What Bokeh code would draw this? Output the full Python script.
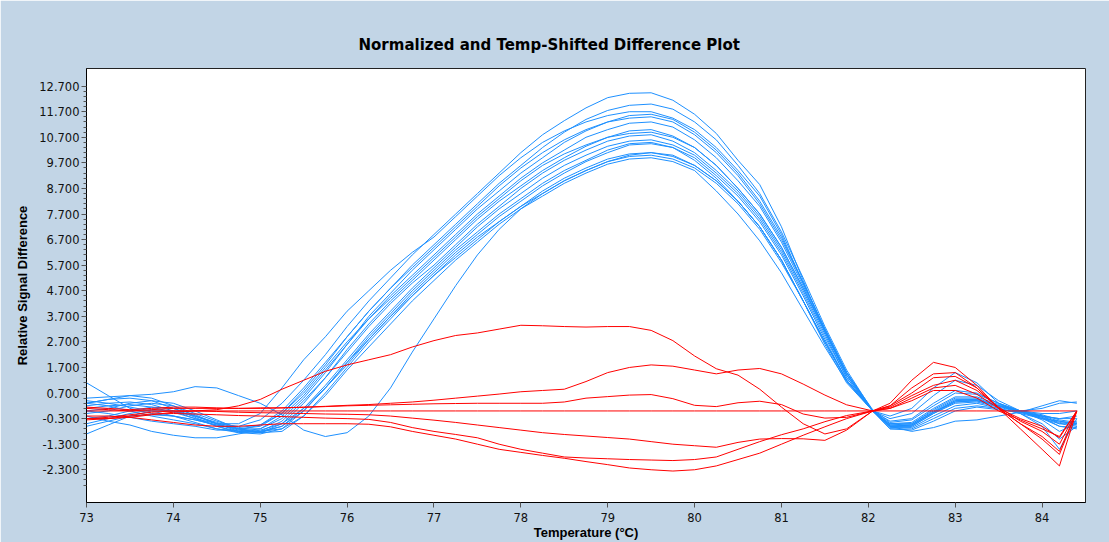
from bokeh.plotting import figure
from bokeh.models import FixedTicker, PrintfTickFormatter, Range1d
from bokeh.embed import file_html
from bokeh.resources import INLINE

# ---------------- data ----------------
temps = [73.0, 73.25, 73.5, 73.75, 74.0, 74.25, 74.5, 74.75, 75.0, 75.25, 75.5, 75.75,
         76.0, 76.25, 76.5, 76.75, 77.0, 77.25, 77.5, 77.75, 78.0, 78.25, 78.5, 78.75,
         79.0, 79.25, 79.5, 79.75, 80.0, 80.25, 80.5, 80.75, 81.0, 81.25, 81.5, 81.75,
         82.05, 82.25, 82.5, 82.75, 83.0, 83.25, 83.5, 83.75, 84.0, 84.2, 84.4]

blue_01 = [0.2, 0.3, 0.35, 0.25, 0.0, -0.3, -0.5, -0.6, -0.35,
           0.3, 1.2, 2.2, 3.3, 4.3, 5.2, 6.1, 6.9, 7.7, 8.5, 9.3, 10.1, 10.8, 11.35, 11.85,
           12.25, 12.42, 12.44, 12.15, 11.6, 10.85, 9.8, 8.85, 7.2, 5.1, 3.1, 1.5,
           0.0, -0.2, 0.1, 0.9, 1.5, 1.1, 0.3, -0.1, -0.3, -0.4, -0.5]
blue_02 = [-0.1, 0.0, 0.2, 0.3, 0.2, -0.1, -0.4, -0.65, -0.55,
           0.0, 0.9, 1.9, 2.9, 3.9, 4.8, 5.7, 6.5, 7.3, 8.1, 8.9, 9.6, 10.3, 10.9, 11.4,
           11.75, 11.95, 12.0, 11.8, 11.3, 10.6, 9.6, 8.5, 7.0, 5.2, 3.3, 1.6,
           0.0, -0.3, -0.1, 0.6, 1.2, 1.0, 0.4, 0.0, -0.2, -0.3, -0.3]
blue_03 = [0.5, 0.55, 0.6, 0.5, 0.2, -0.2, -0.5, -0.5, -0.1,
           0.9, 2.0, 2.9, 3.9, 4.7, 5.5, 6.2, 6.8, 7.6, 8.4, 9.2, 9.9, 10.5, 10.95, 11.3,
           11.55, 11.7, 11.7, 11.45, 11.0, 10.3, 9.4, 8.4, 6.9, 5.0, 3.2, 1.5,
           0.0, -0.4, -0.3, 0.3, 0.8, 0.7, 0.3, 0.0, -0.2, -0.4, -0.5]
blue_04 = [0.0, 0.1, 0.3, 0.4, 0.3, 0.0, -0.35, -0.7, -0.7,
           -0.3, 0.5, 1.5, 2.6, 3.7, 4.6, 5.5, 6.3, 7.1, 7.9, 8.6, 9.3, 9.9, 10.5, 10.95,
           11.3, 11.55, 11.6, 11.4, 10.9, 10.2, 9.3, 8.2, 6.8, 5.0, 3.2, 1.5,
           0.05, -0.45, -0.35, 0.2, 0.7, 0.65, 0.3, 0.0, -0.1, -0.1, 0.0]
blue_05 = [1.1, 0.6, 0.1, -0.1, -0.2, -0.35, -0.55, -0.7, -0.6,
           -0.1, 0.8, 1.8, 2.9, 3.9, 4.8, 5.6, 6.4, 7.2, 8.0, 8.8, 9.5, 10.1, 10.6, 11.0,
           11.3, 11.45, 11.5, 11.3, 10.8, 10.1, 9.2, 8.1, 6.7, 5.0, 3.2, 1.5,
           0.0, -0.5, -0.45, 0.1, 0.55, 0.55, 0.25, 0.0, 0.1, 0.3, 0.35]
blue_06 = [0.3, 0.45, 0.5, 0.4, 0.1, -0.25, -0.6, -0.8, -0.7,
           -0.2, 0.6, 1.6, 2.6, 3.6, 4.5, 5.3, 6.1, 6.9, 7.7, 8.4, 9.1, 9.7, 10.2, 10.7,
           11.0, 11.25, 11.3, 11.1, 10.6, 9.9, 9.0, 8.0, 6.6, 4.9, 3.1, 1.4,
           0.0, -0.55, -0.5, 0.0, 0.45, 0.45, 0.2, -0.05, -0.2, -0.5, -0.6]
blue_07 = [-0.3, -0.2, 0.0, 0.15, 0.1, -0.15, -0.5, -0.8, -0.85,
           -0.5, 0.3, 1.3, 2.4, 3.4, 4.3, 5.1, 5.9, 6.7, 7.5, 8.2, 8.8, 9.4, 9.9, 10.35,
           10.7, 10.95, 11.0, 10.75, 10.3, 9.6, 8.7, 7.7, 6.4, 4.8, 3.1, 1.4,
           0.0, -0.6, -0.55, -0.05, 0.35, 0.4, 0.2, 0.0, -0.3, -0.6, -0.7]
blue_08 = [0.4, 0.3, 0.15, 0.0, -0.2, -0.45, -0.7, -0.85, -0.8,
           -0.4, 0.4, 1.3, 2.3, 3.3, 4.2, 5.0, 5.7, 6.5, 7.3, 8.0, 8.7, 9.3, 9.8, 10.2,
           10.55, 10.75, 10.8, 10.55, 10.1, 9.4, 8.6, 7.6, 6.3, 4.7, 3.0, 1.3,
           0.0, -0.6, -0.6, -0.1, 0.3, 0.35, 0.15, -0.05, -0.3, -0.5, -0.4]
blue_09 = [-0.5, -0.3, -0.1, 0.05, 0.0, -0.2, -0.5, -0.75, -0.85,
           -0.6, 0.1, 1.0, 2.0, 3.0, 3.9, 4.8, 5.6, 6.4, 7.2, 7.9, 8.5, 9.1, 9.6, 10.0,
           10.35, 10.55, 10.6, 10.4, 10.0, 9.3, 8.5, 7.5, 6.2, 4.6, 2.9, 1.3,
           0.0, -0.65, -0.65, -0.2, 0.2, 0.3, 0.1, -0.1, -0.5, -1.1, -0.6]
blue_10 = [0.1, 0.2, 0.25, 0.15, -0.05, -0.3, -0.6, -0.85, -0.9,
           -0.7, 0.0, 0.9, 1.9, 2.9, 3.8, 4.7, 5.5, 6.3, 7.0, 7.7, 8.3, 8.9, 9.4, 9.8,
           10.2, 10.45, 10.5, 10.3, 9.9, 9.2, 8.4, 7.4, 6.1, 4.5, 2.8, 1.2,
           0.0, -0.7, -0.7, -0.3, 0.1, 0.2, 0.1, -0.1, -0.6, -1.5, -0.3]
blue_11 = [-0.2, -0.4, -0.55, -0.8, -0.95, -1.05, -1.05, -0.9, -0.75,
           -0.5, 0.1, 0.9, 1.8, 2.8, 3.7, 4.6, 5.4, 6.2, 6.9, 7.6, 8.2, 8.8, 9.3, 9.75,
           10.1, 10.4, 10.45, 10.3, 9.8, 9.1, 8.2, 7.2, 5.9, 4.3, 2.7, 1.2,
           0.0, -0.7, -0.75, -0.4, 0.0, 0.15, 0.05, -0.05, -0.2, -0.3, -0.2]
blue_12 = [-0.9, -0.55, -0.2, 0.0, 0.0, -0.2, -0.45, -0.7, -0.85,
           -0.8, -0.2, 0.7, 1.7, 2.7, 3.6, 4.5, 5.3, 6.1, 6.8, 7.4, 8.0, 8.6, 9.1, 9.5,
           9.85, 10.05, 10.1, 9.95, 9.6, 9.0, 8.2, 7.2, 5.9, 4.3, 2.7, 1.2,
           0.0, -0.6, -0.8, -0.65, -0.4, -0.35, -0.2, -0.05, 0.2, 0.4, 0.3]
blue_13 = [0.3, 0.2, 0.0, -0.2, -0.35, -0.5, -0.7, -0.8, -0.8,
           -0.6, 0.0, 0.9, 1.9, 2.8, 3.7, 4.5, 5.3, 6.0, 6.7, 7.4, 8.0, 8.5, 9.0, 9.4,
           9.75, 9.95, 10.0, 9.85, 9.5, 8.9, 8.1, 7.1, 5.8, 4.3, 2.6, 1.1,
           0.0, -0.5, -0.5, 0.05, 0.5, 0.5, 0.2, 0.0, -0.15, -0.35, -0.45]
blue_14 = [-0.6, -0.4, -0.2, -0.15, -0.2, -0.35, -0.55, -0.7, -0.8,
           -0.7, -0.2, 0.6, 1.6, 2.5, 3.4, 4.3, 5.1, 5.9, 6.6, 7.3, 7.9, 8.4, 8.9, 9.3,
           9.65, 9.85, 9.9, 9.75, 9.4, 8.6, 7.7, 6.65, 5.4, 3.95, 2.5, 1.15,
           0.0, -0.55, -0.55, -0.05, 0.4, 0.4, 0.2, 0.0, -0.35, -0.8, -0.5]
blue_15 = [0.3, 0.45, 0.6, 0.65, 0.75, 0.95, 0.9, 0.6, 0.3,
           -0.15, -0.75, -1.0, -0.85, -0.2, 0.9, 2.3, 3.6, 4.9, 6.1, 7.1, 7.9, 8.5, 9.0, 9.4,
           9.75, 10.0, 10.1, 10.0, 9.6, 9.0, 8.2, 7.2, 5.9, 4.3, 2.7, 1.2,
           0.0, -0.6, -0.55, -0.05, 0.4, 0.45, 0.2, -0.05, -0.25, -0.6, -0.65]
blue_16 = [0.0, -0.1, -0.25, -0.4, -0.5, -0.6, -0.75, -0.75, -0.55,
           -0.1, 0.7, 1.7, 2.7, 3.6, 4.4, 5.2, 6.0, 6.8, 7.6, 8.3, 9.0, 9.6, 10.05, 10.4,
           10.7, 10.85, 10.9, 10.7, 10.3, 9.6, 8.7, 7.7, 6.4, 4.8, 3.1, 1.4,
           0.0, -0.6, -0.6, -0.1, 0.35, 0.4, 0.2, 0.0, -0.25, -0.45, -0.55]

red_flat = [0.0] * 47
red_01 = [-0.3, -0.3, -0.25, -0.15, -0.05, 0.0, 0.05, 0.2, 0.45,
          0.85, 1.2, 1.55, 1.8, 2.0, 2.2, 2.5, 2.75, 2.95, 3.05, 3.2, 3.35, 3.33, 3.3, 3.28,
          3.3, 3.3, 3.15, 2.75, 2.15, 1.65, 1.4, 0.85, 0.15, -0.5, -0.9, -0.7,
          0.0, 0.3, 1.2, 1.9, 1.7, 1.0, 0.1, -0.7, -1.5, -2.15, 0.0]
red_02 = [0.1, 0.05, 0.0, 0.05, 0.1, 0.1, 0.1, 0.1, 0.12,
          0.12, 0.15, 0.18, 0.22, 0.25, 0.3, 0.35, 0.42, 0.5, 0.58, 0.66, 0.75, 0.8, 0.85, 1.15,
          1.5, 1.7, 1.8, 1.75, 1.6, 1.45, 1.6, 1.66, 1.45, 1.05, 0.62, 0.24,
          0.0, 0.2, 0.9, 1.45, 1.5, 0.9, 0.1, -0.5, -1.1, -1.7, 0.0]
red_03 = [0.15, 0.1, 0.05, 0.1, 0.15, 0.15, 0.12, 0.1, 0.1,
          0.12, 0.14, 0.17, 0.2, 0.22, 0.24, 0.26, 0.28, 0.29, 0.3, 0.3, 0.3, 0.3, 0.35, 0.5,
          0.56, 0.62, 0.64, 0.48, 0.22, 0.17, 0.32, 0.38, 0.25, -0.12, -0.28, -0.25,
          0.0, 0.15, 0.6, 1.0, 1.2, 0.8, 0.15, -0.4, -0.8, -1.3, 0.0]
red_04 = [-0.3, -0.25, -0.15, -0.05, 0.0, 0.0, -0.02, -0.05, -0.07,
          -0.08, -0.1, -0.12, -0.13, -0.15, -0.2, -0.28, -0.36, -0.45, -0.55, -0.65, -0.75, -0.85, -0.92, -0.98,
          -1.04, -1.1, -1.2, -1.3, -1.36, -1.42, -1.23, -1.1, -1.08, -1.09, -1.15, -0.75,
          0.0, 0.1, 0.5, 0.9, 1.0, 0.65, 0.1, -0.3, -0.6, -1.05, 0.0]
red_05 = [-0.35, -0.3, -0.2, -0.12, -0.1, -0.12, -0.15, -0.18, -0.2,
          -0.22, -0.25, -0.28, -0.3, -0.33, -0.45, -0.65, -0.8, -0.92, -1.05, -1.3, -1.5, -1.65, -1.8, -1.84,
          -1.87, -1.9, -1.92, -1.94, -1.9, -1.8, -1.5, -1.2, -0.93, -0.7, -0.42, -0.18,
          0.0, 0.2, 0.7, 1.3, 1.35, 0.9, 0.1, -0.5, -1.0, -1.58, 0.0]
red_06 = [-0.2, -0.2, -0.25, -0.35, -0.45, -0.55, -0.6, -0.6, -0.55,
          -0.5, -0.5, -0.5, -0.5, -0.52, -0.62, -0.8, -0.95, -1.1, -1.3, -1.5, -1.62, -1.74, -1.85, -1.98,
          -2.1, -2.23, -2.3, -2.35, -2.3, -2.15, -1.9, -1.65, -1.3, -0.95, -0.62, -0.3,
          0.0, 0.1, 0.4, 0.8, 0.8, 0.5, 0.0, -0.35, -0.7, -1.0, 0.0]

blue_curves = [blue_01, blue_02, blue_03, blue_04, blue_05, blue_06, blue_07, blue_08,
               blue_09, blue_10, blue_11, blue_12, blue_13, blue_14, blue_15, blue_16]
red_curves = [red_flat, red_01, red_02, red_03, red_04, red_05, red_06]

x_ticks = [73, 74, 75, 76, 77, 78, 79, 80, 81, 82, 83, 84]
y_ticks = [-2.3, -1.3, -0.3, 0.7, 1.7, 2.7, 3.7, 4.7, 5.7, 6.7, 7.7, 8.7, 9.7, 10.7, 11.7, 12.7]

# ---------------- figure ----------------
p = figure(width=1109, height=542, output_backend="svg", toolbar_location=None,
           x_range=Range1d(73.0, 84.5), y_range=Range1d(-3.58, 13.39),
           min_border_left=86, min_border_right=24, min_border_top=68, min_border_bottom=37,
           title="Normalized and Temp-Shifted Difference Plot")

p.border_fill_color = "#c2d5e6"
p.background_fill_color = "white"
p.outline_line_color = "#222222"
p.outline_line_width = 1
p.xgrid.visible = False
p.ygrid.visible = False

p.title.align = "left"
p.title.offset = 272
p.title.text_font = "DejaVu Sans"
p.title.text_font_size = "15px"
p.title.text_font_style = "bold"
p.title.text_color = "black"
p.title.standoff = 30

minor_y = []
for t in y_ticks:
    for k in (1, 2, 3, 4):
        minor_y.append(round(t + 0.2 * k, 2))
minor_y = [m for m in minor_y if m < 12.7] + [-2.5, -2.7, -2.9]

p.xaxis.ticker = FixedTicker(ticks=x_ticks, minor_ticks=[])
p.yaxis.ticker = FixedTicker(ticks=y_ticks, minor_ticks=minor_y)
p.yaxis.formatter = PrintfTickFormatter(format="%.3f")

for ax in (p.xaxis, p.yaxis):
    ax.axis_line_color = "black"
    ax.major_tick_line_color = "#555555"
    ax.minor_tick_line_color = "#555555"
    ax.major_label_text_font = "DejaVu Sans"
    ax.major_label_text_font_size = "11.5px"
    ax.major_label_text_color = "#111111"
    ax.axis_label_text_font = "Liberation Sans"
    ax.axis_label_text_font_size = "13px"
    ax.axis_label_text_font_style = "bold"
    ax.axis_label_text_color = "black"

p.xaxis.major_tick_out = 5
p.xaxis.major_tick_in = 0
p.xaxis.major_label_standoff = 5
p.xaxis.axis_label = "Temperature (°C)"
p.xaxis.axis_label_standoff = 0

p.yaxis.major_tick_out = 5
p.yaxis.major_tick_in = 0
p.yaxis.minor_tick_out = 3
p.yaxis.minor_tick_in = 0
p.yaxis.major_label_standoff = 2
p.yaxis.axis_label = "Relative Signal Difference"
p.yaxis.axis_label_standoff = 6

for ys in blue_curves:
    p.line(temps[:len(ys)], ys, line_color="#1e90ff", line_width=1)
for ys in red_curves:
    p.line(temps[:len(ys)], ys, line_color="#ff0000", line_width=1)

open("out.html", "w").write(file_html(p, INLINE))
